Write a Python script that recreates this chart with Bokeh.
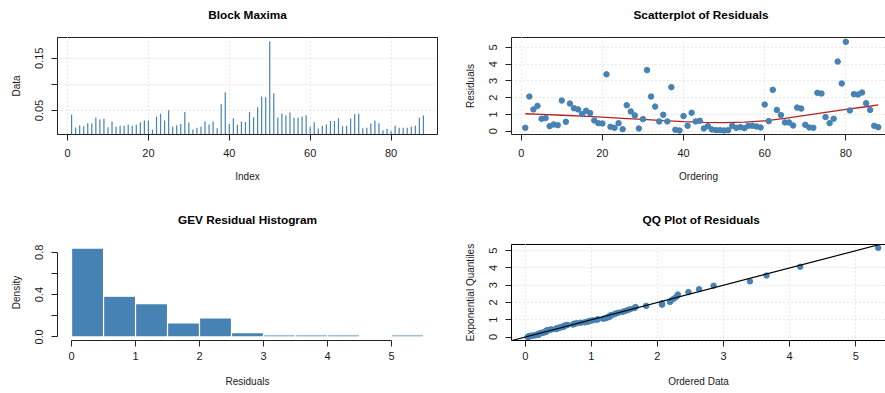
from bokeh.plotting import figure
from bokeh.layouts import column, row
from bokeh.models import FixedTicker, Slope, LinearAxis
from bokeh.embed import file_html
from bokeh.resources import INLINE
import numpy as np

# ---------------- data ----------------
block_maxima = [0.0417, 0.0175, 0.0213, 0.020, 0.0258, 0.025, 0.0366, 0.0328, 0.034, 0.018,
                0.029, 0.019, 0.0207, 0.021, 0.023, 0.021, 0.0226, 0.0277, 0.031, 0.031,
                0.0137, 0.0385, 0.0436, 0.031, 0.0506, 0.019, 0.022, 0.024, 0.047, 0.027,
                0.0137, 0.017, 0.019, 0.029, 0.023, 0.029, 0.016, 0.062, 0.085, 0.024,
                0.0353, 0.0226, 0.029, 0.028, 0.047, 0.0373, 0.0564, 0.0768, 0.0755, 0.1825,
                0.0831, 0.0366, 0.0443, 0.041, 0.046, 0.036, 0.036, 0.0385, 0.041, 0.019,
                0.0277, 0.0156, 0.0207, 0.023, 0.030, 0.030, 0.0353, 0.020, 0.0207, 0.0347,
                0.043, 0.0436, 0.016, 0.017, 0.025, 0.031, 0.0258, 0.0124, 0.015, 0.011,
                0.021, 0.017, 0.017, 0.017, 0.019, 0.021, 0.036, 0.0404]

residuals = [0.2, 2.07, 1.3, 1.51, 0.74, 0.78, 0.3, 0.4, 0.36, 1.83,
             0.56, 1.65, 1.37, 1.3, 1.02, 1.22, 1.08, 0.64, 0.48, 0.46,
             3.4, 0.26, 0.2, 0.48, 0.12, 1.55, 1.18, 0.94, 0.16, 0.72,
             3.65, 2.07, 1.47, 0.58, 0.98, 0.58, 2.63, 0.08, 0.04, 0.9,
             0.32, 1.1, 0.58, 0.62, 0.16, 0.3, 0.1, 0.06, 0.06, 0.04,
             0.06, 0.32, 0.2, 0.24, 0.18, 0.32, 0.32, 0.28, 0.22, 1.59,
             0.6, 2.47, 1.27, 0.96, 0.52, 0.52, 0.34, 1.41, 1.35, 0.38,
             0.22, 0.2, 2.29, 2.25, 0.84, 0.48, 0.74, 4.16, 2.85, 5.34,
             1.24, 2.21, 2.19, 2.31, 1.67, 1.27, 0.32, 0.24]

smooth_x = [1, 5, 10, 15, 20, 25, 30, 35, 40, 45, 50, 55, 60, 65, 70, 75, 80, 85, 88]
smooth_y = [1.04, 1.00, 0.95, 0.90, 0.84, 0.77, 0.70, 0.63, 0.57, 0.53, 0.51, 0.54, 0.62,
            0.77, 0.94, 1.12, 1.30, 1.46, 1.57]

hist_breaks = [0.0, 0.5, 1.0, 1.5, 2.0, 2.5, 3.0, 3.5, 4.0, 4.5, 5.0, 5.5]
hist_density = [0.84, 0.385, 0.315, 0.133, 0.179, 0.041, 0.02, 0.02, 0.02, 0.0, 0.02]

index_ticks = [0, 20, 40, 60, 80]
data_ticks = [0.05, 0.10, 0.15]
resid_ticks = [0, 1, 2, 3, 4, 5]
dens_ticks = [0.0, 0.2, 0.4, 0.6, 0.8]

titles = ["Block Maxima", "Scatterplot of Residuals", "GEV Residual Histogram", "QQ Plot of Residuals"]

# QQ: ordered data vs exponential quantiles
n = len(residuals)
qq_x = sorted(residuals)
qq_p = [(i + 0.5) / n for i in range(n)]
qq_y = [-np.log(1 - p) for p in qq_p]

idx = list(range(1, n + 1))

# ---------------- style ----------------
FONT = "Liberation Sans"
BLUE = "#4682B4"
TXT = "#1a1a1a"
GRIDC = "#d0d0d0"


def make_fig(w, h, left, right, top, bottom, xr, yr, title, spacer, top_line=None,
             align="center", offset=0):
    p = figure(width=w, height=h, x_range=xr, y_range=yr, output_backend="svg",
               toolbar_location=None, min_border_left=left, min_border_right=right,
               min_border_top=top, min_border_bottom=bottom, title=title)
    p.title.text_font = FONT
    p.title.text_font_size = "11.8px"
    p.title.text_font_style = "bold"
    p.title.align = align
    p.title.offset = offset
    p.title.vertical_align = "top"
    p.title.text_color = "black"
    p.title.standoff = 12
    p.background_fill_color = "white"
    p.border_fill_color = "white"
    # label-less top axis: spacer between title and frame, and (optionally) the top box edge
    top_ax = LinearAxis(ticker=FixedTicker(ticks=[0]), major_tick_out=spacer, major_tick_in=0,
                        minor_tick_out=0, minor_tick_in=0, major_label_standoff=0,
                        major_label_text_font_size="0px", major_label_text_color=None,
                        major_label_overrides={0: ""},
                        major_tick_line_color="white", major_tick_line_width=1,
                        minor_tick_line_color=None,
                        axis_line_color=top_line, axis_line_width=1)
    p.add_layout(top_ax, "above")
    return p


def style_axes(p, xticks, yticks, xlabel, ylabel, xstand, xlabstand, yover=None, grid=True):
    xa = p.below[0]
    ya = p.left[0]
    xa.ticker = FixedTicker(ticks=xticks)
    ya.ticker = FixedTicker(ticks=yticks)
    xa.axis_label = xlabel
    ya.axis_label = ylabel
    for ax in (xa, ya):
        ax.axis_label_text_font = FONT
        ax.axis_label_text_font_size = "10px"
        ax.axis_label_text_font_style = "normal"
        ax.axis_label_text_color = TXT
        ax.major_label_text_font = FONT
        ax.major_label_text_font_size = "11px"
        ax.major_label_text_color = TXT
        ax.major_tick_in = 0
        ax.major_tick_out = 6
        ax.minor_tick_line_color = None
        ax.minor_tick_out = 0
        ax.axis_line_color = "#222222"
        ax.major_tick_line_color = "#222222"
        ax.axis_line_width = 1
    xa.major_label_standoff = xstand
    xa.axis_label_standoff = xlabstand
    ya.major_label_standoff = 8
    ya.axis_label_standoff = 11
    ya.major_label_orientation = "vertical"
    if yover:
        ya.major_label_overrides = yover
    if grid:
        p.xgrid[0].ticker = FixedTicker(ticks=xticks)
        p.ygrid[0].ticker = FixedTicker(ticks=yticks)
        for g in (p.xgrid[0], p.ygrid[0]):
            g.grid_line_color = GRIDC
            g.grid_line_dash = "1 3"
            g.grid_line_width = 1
    else:
        p.xgrid.visible = False
        p.ygrid.visible = False


# ---- Block Maxima ----
p1 = make_fig(442, 204, 57, 5, 37, 70, (-2.48, 91.48), (0.0041, 0.1896), titles[0], 8,
              top_line="#222222")
style_axes(p1, index_ticks, data_ticks, "Index", "Data", 8, 11, yover={0.1: ""})
p1.segment(x0=idx, y0=[0] * n, x1=idx, y1=block_maxima, line_color=BLUE, line_width=1.2)
p1.outline_line_color = "#222222"
p1.outline_line_width = 1

# ---- Scatterplot of Residuals ----
p2 = make_fig(443, 204, 69, 0, 37, 70, (-2.4, 89.78), (-0.2, 5.6), titles[1], 8,
              top_line="#222222", align="left", offset=122)
style_axes(p2, index_ticks, resid_ticks, "Ordering", "Residuals", 8, 11)
p2.outline_line_color = None
p2.line(smooth_x, smooth_y, line_color="#B22222", line_width=1.3)
p2.scatter(idx, residuals, size=5.5, fill_color=BLUE, line_color=BLUE)

# ---- GEV Residual Histogram ----
p3 = make_fig(442, 189, 57, 5, 40, 53, (-0.22, 5.72), (-0.0336, 0.874), titles[2], 10)
style_axes(p3, resid_ticks, dens_ticks, "Residuals", "Density", 5, 13,
           yover={0.0: "0.0", 0.2: "", 0.4: "0.4", 0.6: "", 0.8: "0.8"}, grid=False)
p3.below[0].bounds = (0, 5)
p3.left[0].bounds = (0, 0.8)
p3.outline_line_color = None
p3.quad(left=hist_breaks[:-1], right=hist_breaks[1:], bottom=[0] * len(hist_density),
        top=hist_density, fill_color=BLUE, line_color="white", line_width=1.2)

# ---- QQ Plot ----
p4 = make_fig(443, 189, 69, 0, 40, 53, (-0.207, 5.45), (-0.2, 5.36), titles[3], 10,
              top_line="black", align="left", offset=131)
style_axes(p4, resid_ticks, resid_ticks, "Ordered Data", "Exponential Quantiles", 5, 13)
p4.outline_line_color = None
p4.below[0].axis_line_color = "black"
p4.left[0].axis_line_color = "black"
p4.scatter(qq_x, qq_y, size=5.5, fill_color=BLUE, line_color=BLUE)
p4.add_layout(Slope(gradient=1, y_intercept=0, line_color="black", line_width=1.2))

layout = column(row(p1, p2), row(p3, p4))
open("out.html", "w").write(file_html(layout, INLINE))
